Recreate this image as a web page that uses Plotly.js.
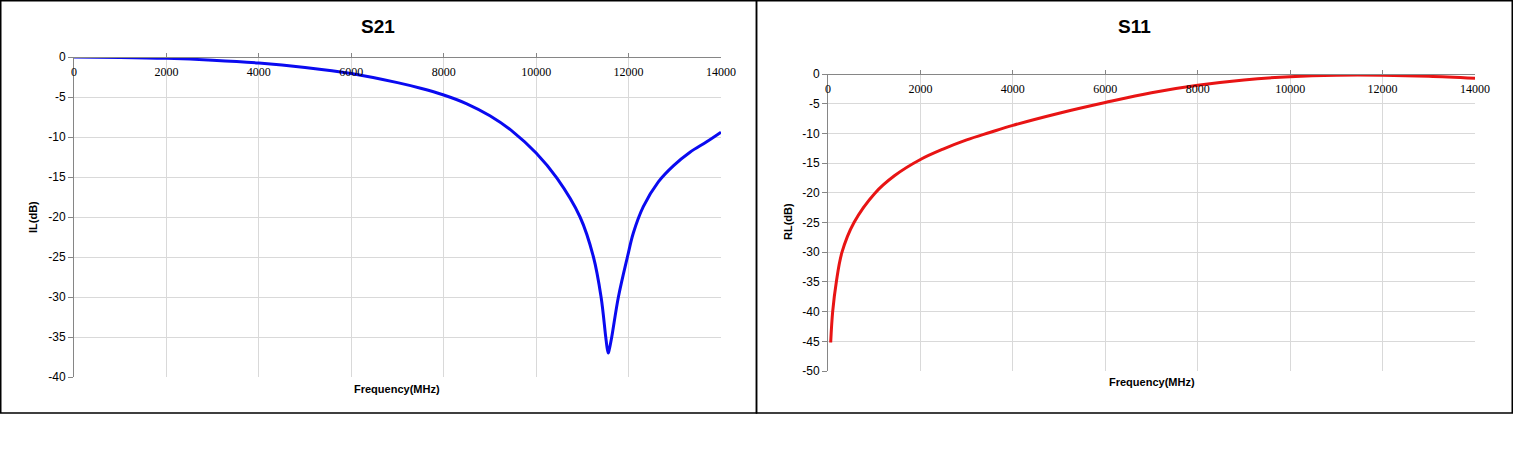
<!DOCTYPE html>
<html>
<head>
<meta charset="utf-8">
<script src="https://cdn.plot.ly/plotly-3.0.1.min.js"></script>
<style>html,body{margin:0;padding:0;background:#fff;}#chart{width:1513px;height:460px;}</style>
</head>
<body>
<div id="chart"></div>
<script>
// S21 (insertion loss) data
var s21Freq = [0, 1000, 2000, 3000, 4000, 5000, 6000, 7000, 7500, 8000, 8500, 9000, 9500, 10000, 10450, 10950, 11240, 11405, 11506, 11540, 11562, 11585, 11636, 11780, 11975, 12103, 12319, 12644, 12968, 13329, 13690, 14000];
var s21Val  = [0, -0.05, -0.17, -0.4, -0.75, -1.3, -2.05, -3.2, -3.9, -4.75, -5.85, -7.35, -9.35, -12.0, -15.15, -20.0, -25.0, -30.0, -35.0, -36.5, -37.0, -36.5, -35.0, -30.0, -25.0, -22.0, -18.7, -15.6, -13.6, -11.9, -10.6, -9.4];

// S11 (return loss) data
var s11Freq = [58, 101, 180, 303, 563, 1011, 1444, 2000, 2490, 3000, 3500, 4000, 5000, 6000, 7000, 8000, 9000, 10000, 11000, 12000, 13000, 14000];
var s11Val  = [-45.2, -40, -35, -30, -25, -20.1, -17.1, -14.4, -12.65, -11.1, -9.85, -8.65, -6.6, -4.8, -3.15, -1.9, -1.0, -0.45, -0.2, -0.2, -0.38, -0.73];

var xTicks = [0, 2000, 4000, 6000, 8000, 10000, 12000, 14000];
var s21Ticks = [0, -5, -10, -15, -20, -25, -30, -35, -40];
var s11Ticks = [0, -5, -10, -15, -20, -25, -30, -35, -40, -45, -50];

var W = 1513, H = 460;
function px(x){return x / W;}
function py(y){return 1 - y / H;}

var traces = [
  {x: s21Freq, y: s21Val, type: 'scatter', mode: 'lines', xaxis: 'x', yaxis: 'y',
   line: {color: '#0a0af0', width: 3, shape: 'spline', smoothing: 1}, hoverinfo: 'x+y'},
  {x: s11Freq, y: s11Val, type: 'scatter', mode: 'lines', xaxis: 'x2', yaxis: 'y2',
   line: {color: '#e81414', width: 3, shape: 'spline', smoothing: 1}, hoverinfo: 'x+y'}
];

var xFont = {family: 'Liberation Serif, DejaVu Serif, serif', size: 12, color: '#000'};
var yFont = {family: 'Liberation Sans, Arial, sans-serif', size: 12, color: '#000'};

// x axis drawn along the zero line at the top of the plot, labels hanging below it
function xAxis(domain, topY){
  return {
    domain: domain, anchor: 'free', position: py(topY), side: 'bottom', range: [0, 14000],
    tickvals: xTicks, ticktext: xTicks.map(String), tickfont: xFont,
    ticks: 'inside', ticklen: 4, tickcolor: '#868686', ticklabelstandoff: 4,
    showline: true, linecolor: '#868686', linewidth: 1,
    showgrid: true, gridcolor: '#d9d9d9', gridwidth: 1,
    zeroline: false, fixedrange: true, automargin: false
  };
}
function yAxis(domain, anchor, range, ticks){
  return {
    domain: domain, anchor: anchor, range: range,
    tickvals: ticks, ticktext: ticks.map(String), tickfont: yFont,
    ticks: 'outside', ticklen: 5, tickcolor: '#868686',
    showline: true, linecolor: '#868686', linewidth: 1,
    showgrid: true, gridcolor: '#d9d9d9', gridwidth: 1,
    zeroline: false, fixedrange: true, automargin: false
  };
}

var titleFont = {family: 'Liberation Sans, Arial, sans-serif', size: 19, color: '#000'};
var axTitleFont = {family: 'Liberation Sans, Arial, sans-serif', size: 11, color: '#000'};

var layout = {
  width: W, height: H,
  margin: {l: 0, r: 0, t: 0, b: 0, pad: 0},
  paper_bgcolor: '#fff', plot_bgcolor: '#fff',
  showlegend: false,
  xaxis: xAxis([px(74), px(721)], 57),
  yaxis: yAxis([py(377), py(57)], 'x', [-40, 0], s21Ticks),
  xaxis2: xAxis([px(828), px(1475)], 74),
  yaxis2: yAxis([py(371), py(74)], 'x2', [-50, 0], s11Ticks),
  shapes: [
    {type: 'rect', xref: 'paper', yref: 'paper', x0: px(0.75), x1: px(756.5), y0: py(413), y1: py(0.75),
     line: {color: '#000', width: 1.5}, fillcolor: 'rgba(0,0,0,0)'},
    {type: 'rect', xref: 'paper', yref: 'paper', x0: px(756.5), x1: px(1512.25), y0: py(413), y1: py(0.75),
     line: {color: '#000', width: 1.5}, fillcolor: 'rgba(0,0,0,0)'}
  ],
  annotations: [
    {text: '<b>S21</b>', xref: 'paper', yref: 'paper', x: px(378), y: py(27), showarrow: false, font: titleFont, xanchor: 'center', yanchor: 'middle'},
    {text: '<b>S11</b>', xref: 'paper', yref: 'paper', x: px(1134), y: py(27), showarrow: false, font: titleFont, xanchor: 'center', yanchor: 'middle'},
    {text: '<b>IL(dB)</b>', xref: 'paper', yref: 'paper', x: px(33), y: py(217), showarrow: false, textangle: -90, font: axTitleFont, xanchor: 'center', yanchor: 'middle'},
    {text: '<b>RL(dB)</b>', xref: 'paper', yref: 'paper', x: px(788), y: py(222), showarrow: false, textangle: -90, font: axTitleFont, xanchor: 'center', yanchor: 'middle'},
    {text: '<b>Frequency(MHz)</b>', xref: 'paper', yref: 'paper', x: px(397), y: py(389), showarrow: false, font: axTitleFont, xanchor: 'center', yanchor: 'middle'},
    {text: '<b>Frequency(MHz)</b>', xref: 'paper', yref: 'paper', x: px(1152), y: py(382), showarrow: false, font: axTitleFont, xanchor: 'center', yanchor: 'middle'}
  ]
};

Plotly.newPlot('chart', traces, layout, {displayModeBar: false, staticPlot: true});
</script>
</body>
</html>
